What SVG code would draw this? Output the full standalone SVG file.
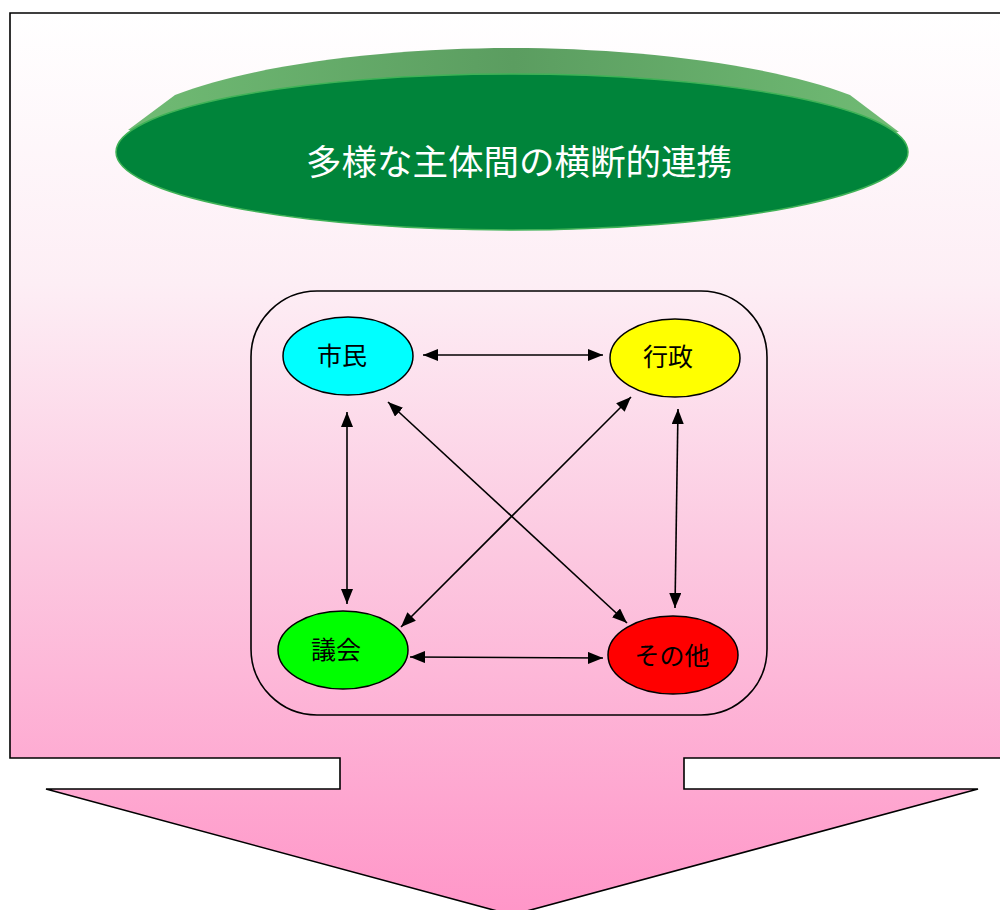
<svg xmlns="http://www.w3.org/2000/svg" width="1000" height="910" viewBox="0 0 1000 910">
<defs>
<linearGradient id="bg" gradientUnits="userSpaceOnUse" x1="0" y1="13" x2="0" y2="915">
<stop offset="0" stop-color="#ffffff"/>
<stop offset="0.3" stop-color="#fdeef5"/>
<stop offset="0.6" stop-color="#fcc8e0"/>
<stop offset="1" stop-color="#ff96c8"/>
</linearGradient>
<linearGradient id="bevel" x1="0" y1="0" x2="1" y2="0">
<stop offset="0" stop-color="#70bb74"/>
<stop offset="0.5" stop-color="#5b9d60"/>
<stop offset="1" stop-color="#70bb74"/>
</linearGradient>
<marker id="ah" viewBox="0 0 10 10" refX="10" refY="5" markerWidth="15" markerHeight="12" markerUnits="userSpaceOnUse" orient="auto-start-reverse" preserveAspectRatio="none">
<path d="M0,0 L10,5 L0,10 Z" fill="#000"/>
</marker>
<style>
.node{stroke:#000;stroke-width:1.5}
.lbl{font-family:"Noto Sans CJK JP","Noto Sans",sans-serif;font-size:25px;fill:#000;text-anchor:middle;dominant-baseline:central}
.con{stroke:#000;stroke-width:1.6;fill:none;marker-start:url(#ah);marker-end:url(#ah)}
</style>
</defs>
<rect width="1000" height="910" fill="#fff"/>
<g id="background-arrow">
<path d="M10,13 H1010 V758 H684 V789 H978 L512,915 L46,789 H340 V758 H10 Z" fill="url(#bg)" stroke="#000" stroke-width="1.6"/>
</g>
<g id="title">
<path d="M128,130 L175,95 C260,62 400,48 512,48 C624,48 764,62 850,95 L899,132 L512,150 Z" fill="url(#bevel)"/>
<ellipse cx="512" cy="152" rx="396" ry="78" fill="#00843a" stroke="#3fb257" stroke-width="1.5"/>
<text x="519" y="159" font-family="'Noto Sans CJK JP','Noto Sans',sans-serif" font-size="35.5" fill="#fff" text-anchor="middle" dominant-baseline="central">多様な主体間の横断的連携</text>
</g>
<g id="frame">
<rect x="251" y="291" width="516" height="424" rx="66" ry="66" fill="none" stroke="#000" stroke-width="1.6"/>
</g>
<g id="connectors">
<line class="con" x1="423" y1="355" x2="603" y2="355"/>
<line class="con" x1="410" y1="657" x2="603" y2="658"/>
<line class="con" x1="347" y1="412" x2="347" y2="604"/>
<line class="con" x1="678" y1="409" x2="675" y2="608"/>
<line class="con" x1="388" y1="402" x2="627" y2="623"/>
<line class="con" x1="631" y1="397" x2="401" y2="627"/>
</g>
<g id="node-shimin">
<ellipse class="node" cx="348" cy="356" rx="65" ry="39" fill="#00ffff"/>
<text class="lbl" x="342" y="354">市民</text>
</g>
<g id="node-gyosei">
<ellipse class="node" cx="675" cy="358" rx="65" ry="39" fill="#ffff00"/>
<text class="lbl" x="668" y="355">行政</text>
</g>
<g id="node-gikai">
<ellipse class="node" cx="343" cy="650" rx="65" ry="39" fill="#00ff00"/>
<text class="lbl" x="336" y="648">議会</text>
</g>
<g id="node-sonota">
<ellipse class="node" cx="673" cy="655" rx="65" ry="39" fill="#ff0000"/>
<text class="lbl" x="672" y="654">その他</text>
</g>
</svg>
